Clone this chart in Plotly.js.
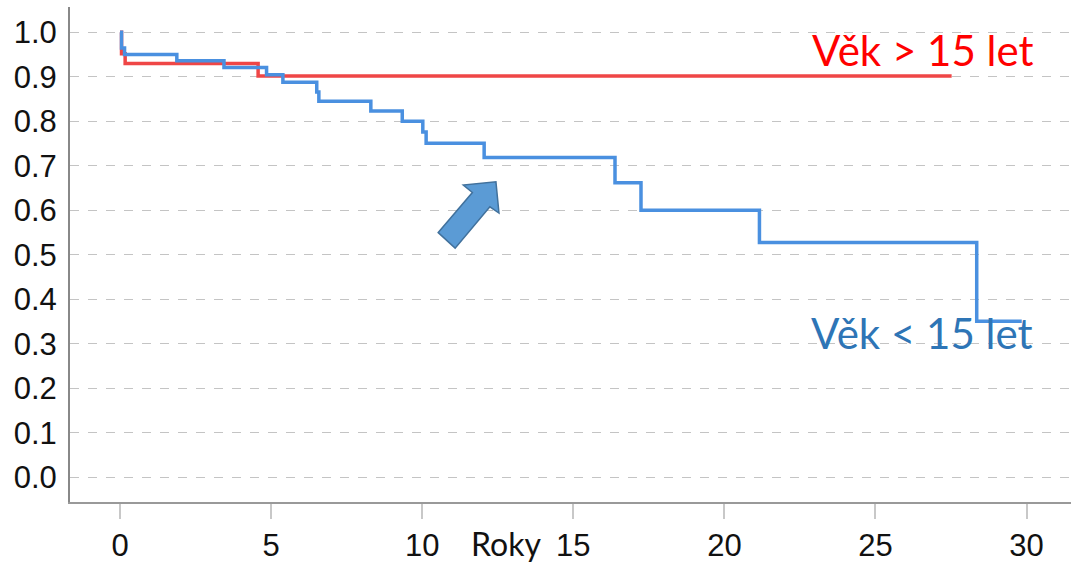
<!DOCTYPE html>
<html>
<head>
<meta charset="utf-8">
<script src="https://cdn.plot.ly/plotly-3.0.1.min.js"></script>
<style>html,body{margin:0;padding:0;background:#fff;}#chart{width:1071px;height:564px;}</style>
</head>
<body>
<div id="chart"></div>
<script>
// Kaplan-Meier step data
const yearsOlder = [0, 0.05, 0.17, 4.57, 27.52];
const survOlder  = [1.0, 0.952, 0.930, 0.902, 0.902];

const yearsYounger = [0, 0.05, 0.15, 1.88, 3.44, 4.85, 5.39, 6.51, 6.58, 8.30, 9.34, 10.02, 10.13, 12.05, 16.38, 17.24, 21.16, 28.35, 29.84];
const survYounger  = [1.0, 0.965, 0.950, 0.936, 0.921, 0.905, 0.888, 0.866, 0.845, 0.823, 0.800, 0.776, 0.751, 0.719, 0.662, 0.600, 0.528, 0.351, 0.351];

const xTicks = [0, 5, 10, 15, 20, 25, 30];
const yTicks = [0.0, 0.1, 0.2, 0.3, 0.4, 0.5, 0.6, 0.7, 0.8, 0.9, 1.0];
const yTickLabels = yTicks.map(v => v.toFixed(1));

const labelOlder = 'Věk > 15 let';
const labelYounger = 'Věk < 15 let';
const xLabel = 'Roky';

// arrow decoration (data coordinates)
const arrowX = [10.53, 11.66, 11.36, 12.44, 12.54, 12.24, 11.09];
const arrowY = [0.550, 0.640, 0.657, 0.664, 0.594, 0.608, 0.515];
const arrowPath = 'M ' + arrowX.map((x, i) => x + ',' + arrowY[i]).join(' L ') + ' Z';

const traces = [
  {x: yearsOlder, y: survOlder, type: 'scatter', mode: 'lines', line: {shape: 'hv', color: '#ef4646', width: 3.5}, hoverinfo: 'skip'},
  {x: yearsYounger, y: survYounger, type: 'scatter', mode: 'lines', line: {shape: 'hv', color: '#4a90e0', width: 3.5}, hoverinfo: 'skip'}
];

const layout = {
  width: 1071, height: 564,
  margin: {l: 70, r: 0, t: 7, b: 62},
  paper_bgcolor: '#fff', plot_bgcolor: '#fff',
  showlegend: false,
  font: {family: 'Liberation Sans, Arial, sans-serif', color: '#111', size: 31},
  xaxis: {
    range: [-1.655, 31.47], tickvals: xTicks, ticktext: xTicks.map(String),
    showgrid: false, zeroline: false, showline: true, linecolor: '#999', linewidth: 2,
    ticks: 'outside', ticklen: 15, tickwidth: 2, tickcolor: '#c8c8c8',
    tickfont: {size: 31, color: '#111'}
  },
  yaxis: {
    range: [-0.0555, 1.057], tickvals: yTicks, ticktext: yTickLabels,
    showgrid: true, gridcolor: '#c4c4c4', griddash: 'dash', gridwidth: 1,
    zeroline: false, showline: true, linecolor: '#888', linewidth: 2,
    ticks: '', tickfont: {size: 31, color: '#111'}, ticklabelstandoff: 5
  },
  shapes: [
    {type: 'path', xref: 'x', yref: 'y', path: arrowPath, fillcolor: '#5b9bd5', line: {color: '#41719c', width: 1.5}}
  ],
  annotations: [
    {x: 26.57, y: 0.960, xref: 'x', yref: 'y', text: labelOlder, showarrow: false, xanchor: 'center', yanchor: 'middle', font: {family: 'Lato, Open Sans, sans-serif', size: 42, color: '#ff0000'}},
    {x: 26.54, y: 0.324, xref: 'x', yref: 'y', text: labelYounger, showarrow: false, xanchor: 'center', yanchor: 'middle', font: {family: 'Lato, Open Sans, sans-serif', size: 42, color: '#2e75b6'}},
    {x: 12.77, y: 0, xref: 'x', yref: 'paper', yshift: -41, text: xLabel, showarrow: false, xanchor: 'center', yanchor: 'middle', font: {family: 'Lato, Open Sans, sans-serif', size: 32, color: '#111'}}
  ]
};

Plotly.newPlot('chart', traces, layout, {staticPlot: true, displayModeBar: false});
</script>
</body>
</html>
